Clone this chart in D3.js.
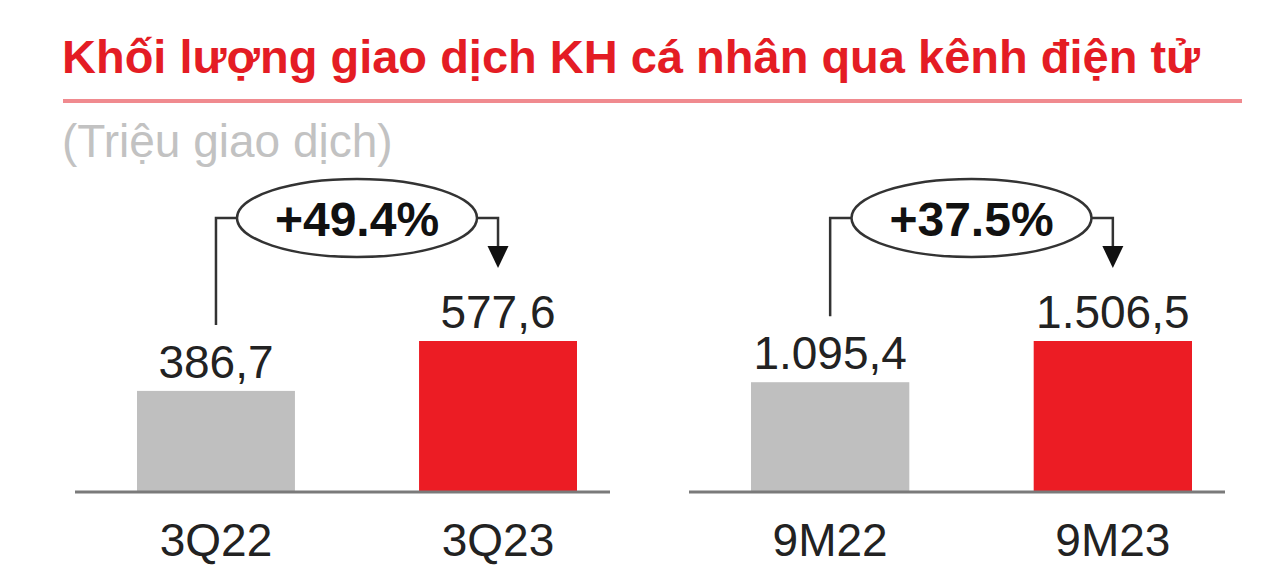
<!DOCTYPE html>
<html lang="vi">
<head>
<meta charset="utf-8">
<title>Khối lượng giao dịch KH cá nhân qua kênh điện tử</title>
<script src="https://cdn.jsdelivr.net/npm/d3@7"></script>
<style>
  body { margin: 0; background: #fff; }
  text { font-family: 'Liberation Sans', Arial, sans-serif; }
</style>
</head>
<body>
<svg id="chart"></svg>
<script>
const title = 'Khối lượng giao dịch KH cá nhân qua kênh điện tử';
const unitLabel = '(Triệu giao dịch)';

const quarterLabels = ['3Q22', '3Q23'];
const quarterValues = [386.7, 577.6];

const ytdLabels = ['9M22', '9M23'];
const ytdValues = [1095.4, 1506.5];

const barColors = ['#bfbfbf', '#ec1c24'];

const width = 1280;
const height = 576;
const baseline = 492;
const barTop = 341;
const fontSize = 46;

const svg = d3
  .select('#chart')
  .attr('width', width)
  .attr('height', height)
  .attr('viewBox', `0 0 ${width} ${height}`);

// header
svg
  .append('text')
  .attr('x', 62)
  .attr('y', 73)
  .attr('fill', '#e41c24')
  .attr('font-size', 47)
  .attr('font-weight', 'bold')
  .text(title);

svg
  .append('line')
  .attr('x1', 63)
  .attr('x2', 1242)
  .attr('y1', 101)
  .attr('y2', 101)
  .attr('stroke', '#f08a8f')
  .attr('stroke-width', 4);

svg
  .append('text')
  .attr('x', 62)
  .attr('y', 157)
  .attr('fill', '#c2c2c2')
  .attr('font-size', 46)
  .text(unitLabel);

const vn = d3.formatLocale({
  decimal: ',',
  thousands: '.',
  grouping: [3],
  currency: ['', '']
});
const formatValue = vn.format(',.1f');
const formatGrowth = d3.format('+.1%');

const panels = [
  { labels: quarterLabels, values: quarterValues, range: [137, 577] },
  { labels: ytdLabels, values: ytdValues, range: [751, 1192] }
];

panels.forEach(panel => {
  const x = d3
    .scaleBand()
    .domain(panel.labels)
    .range(panel.range)
    .paddingInner(0.44);

  const y = d3
    .scaleLinear()
    .domain([0, d3.max(panel.values)])
    .range([baseline, barTop]);

  const bw = x.bandwidth();
  const data = panel.labels.map((label, i) => ({
    label,
    value: panel.values[i],
    color: barColors[i]
  }));

  const g = svg.append('g');

  g.selectAll('rect')
    .data(data)
    .join('rect')
    .attr('x', d => x(d.label))
    .attr('y', d => y(d.value))
    .attr('width', bw)
    .attr('height', d => baseline - y(d.value))
    .attr('fill', d => d.color);

  // baseline, wider than the bars on both sides
  g.append('line')
    .attr('x1', panel.range[0] - 62)
    .attr('x2', panel.range[1] + 33)
    .attr('y1', baseline)
    .attr('y2', baseline)
    .attr('stroke', '#7a7a7a')
    .attr('stroke-width', 3);

  g.append('g')
    .attr('transform', `translate(0, ${baseline})`)
    .call(d3.axisBottom(x).tickSize(0))
    .call(a => a.select('.domain').remove())
    .call(a =>
      a
        .selectAll('.tick text')
        .attr('y', 64)
        .attr('dy', 0)
        .attr('fill', '#222')
        .attr('font-size', fontSize)
        .attr('font-family', "'Liberation Sans', Arial, sans-serif")
    );

  g.selectAll('.value')
    .data(data)
    .join('text')
    .attr('class', 'value')
    .attr('x', d => x(d.label) + bw / 2)
    .attr('y', d => y(d.value) - 13)
    .attr('text-anchor', 'middle')
    .attr('fill', '#222')
    .attr('font-size', fontSize)
    .text(d => formatValue(d.value));

  // growth bracket
  const x0 = x(panel.labels[0]) + bw / 2;
  const x1 = x(panel.labels[1]) + bw / 2;
  const cx = (x0 + x1) / 2;
  const cy = 218;
  const rx = 120;
  const ry = 39;
  const startY = y(panel.values[0]) - 66;
  const tipY = y(panel.values[1]) - 73;

  g.append('path')
    .attr('d', `M${x0},${startY}V${cy}H${cx - rx}`)
    .attr('fill', 'none')
    .attr('stroke', '#333')
    .attr('stroke-width', 2.5);

  g.append('path')
    .attr('d', `M${cx + rx},${cy}H${x1}V${tipY - 20}`)
    .attr('fill', 'none')
    .attr('stroke', '#333')
    .attr('stroke-width', 2.5);

  g.append('path')
    .attr('d', `M${x1 - 10.5},${tipY - 22}H${x1 + 10.5}L${x1},${tipY}Z`)
    .attr('fill', '#111');

  g.append('ellipse')
    .attr('cx', cx)
    .attr('cy', cy)
    .attr('rx', rx)
    .attr('ry', ry)
    .attr('fill', '#fff')
    .attr('stroke', '#333')
    .attr('stroke-width', 2.5);

  g.append('text')
    .attr('x', cx)
    .attr('y', cy + 18)
    .attr('text-anchor', 'middle')
    .attr('fill', '#111')
    .attr('font-size', 48)
    .attr('font-weight', 'bold')
    .text(formatGrowth(panel.values[1] / panel.values[0] - 1));
});
</script>
</body>
</html>
